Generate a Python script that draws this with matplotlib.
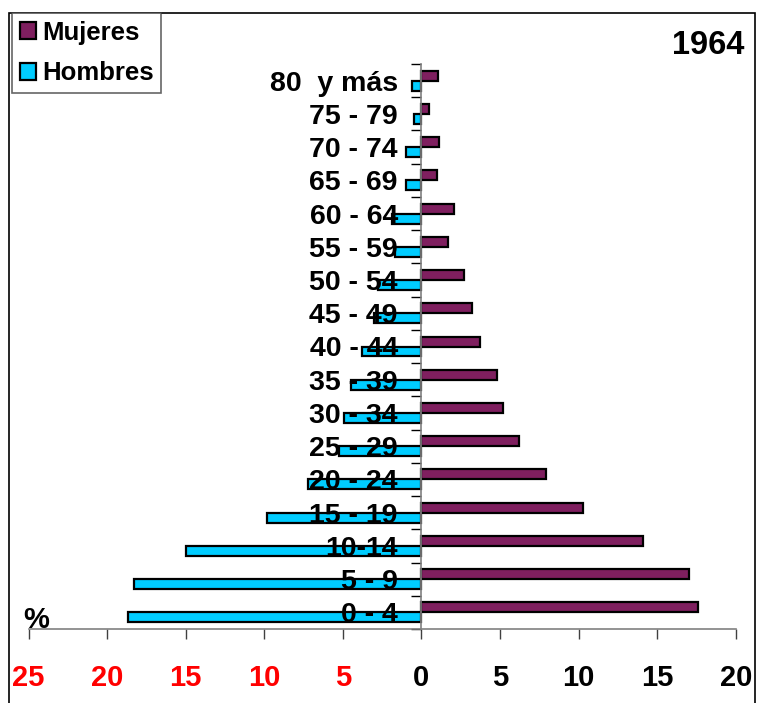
import numpy as np
import matplotlib.pyplot as plt
from matplotlib.patches import Rectangle

plt.rcParams['font.family'] = ['Liberation Sans', 'DejaVu Sans']
plt.rcParams['font.weight'] = 'bold'

grupos = ['0 - 4', '5 - 9', '10-14', '15 - 19', '20 - 24', '25 - 29', '30 - 34',
          '35 - 39', '40 - 44', '45 - 49', '50 - 54', '55 - 59', '60 - 64',
          '65 - 69', '70 - 74', '75 - 79', '80  y más']
mujeres = [17.6, 17.0, 14.1, 10.3, 7.9, 6.2, 5.2, 4.8, 3.7, 3.2, 2.7, 1.7, 2.1,
           1.0, 1.15, 0.5, 1.05]
hombres = [18.7, 18.3, 15.0, 9.8, 7.2, 5.25, 4.9, 4.5, 3.8, 3.0, 2.75, 1.65, 1.9,
           0.95, 0.97, 0.5, 0.6]
xticks = [-25, -20, -15, -10, -5, 0, 5, 10, 15, 20]
xlabels = ['25', '20', '15', '10', '5', '0', '5', '10', '15', '20']
anio = '1964'

W, H = 757, 703
fig = plt.figure(figsize=(W / 100, H / 100), dpi=100)
ax = fig.add_axes([28.5 / W, 74 / H, (735.7 - 28.5) / W, (639 - 74) / H])

y = np.arange(len(grupos))
bh = 0.3
b_m = ax.barh(y + bh / 2, mujeres, height=bh, color='#7f1f5f',
              edgecolor='black', linewidth=1.6, label='Mujeres')
b_h = ax.barh(y - bh / 2, -np.array(hombres), height=bh, color='#00ccff',
              edgecolor='black', linewidth=1.6, label='Hombres')

ax.set_xlim(-25, 20)
ax.set_ylim(-0.5, len(grupos) - 0.5)

for s in ['top', 'right']:
    ax.spines[s].set_visible(False)
ax.spines['left'].set_position(('data', 0))
ax.spines['left'].set_color('#808080')
ax.spines['bottom'].set_color('#808080')
ax.spines['left'].set_linewidth(1.2)
ax.spines['bottom'].set_linewidth(1.2)

ax.set_yticks(y)
ax.set_yticklabels(grupos, fontsize=20.5, fontweight='bold')
ax.set_yticks(np.arange(-0.5, len(grupos), 1), minor=True)
ax.tick_params(axis='y', which='major', length=0, pad=17)
ax.tick_params(axis='y', which='minor', length=7, width=1, color='black',
               direction='out')

ax.set_xticks(xticks)
ax.set_xticklabels(xlabels, fontsize=21, fontweight='bold')
ax.tick_params(axis='x', length=7, width=1, color='#404040', pad=18)
for t, v in zip(ax.get_xticklabels(), xticks):
    t.set_color('red' if v < 0 else 'black')

fig.patches.append(Rectangle((9 / W, -0.05), (755 - 9) / W, (H - 13) / H + 0.05,
                             transform=fig.transFigure, fill=False,
                             edgecolor='black', linewidth=1.2))

leg = fig.legend(handles=[b_m, b_h], loc='upper left',
                 bbox_to_anchor=(12 / W, 1 - 13 / H), bbox_transform=fig.transFigure,
                 borderaxespad=0, fancybox=False, shadow=False,
                 prop={'size': 18.5, 'weight': 'bold'}, handlelength=0.62,
                 handleheight=0.62, handletextpad=0.25, labelspacing=0.65,
                 borderpad=0.3)
leg.get_frame().set_edgecolor('#404040')
leg.get_frame().set_linewidth(1.2)

fig.text(744 / W, 1 - 45 / H, anio, ha='right', va='center', fontsize=23.5,
         fontweight='bold')
fig.text(23 / W, 1 - 628 / H, '%', ha='left', va='baseline', fontsize=21,
         fontweight='bold')

fig.savefig('out.png', dpi=100)
